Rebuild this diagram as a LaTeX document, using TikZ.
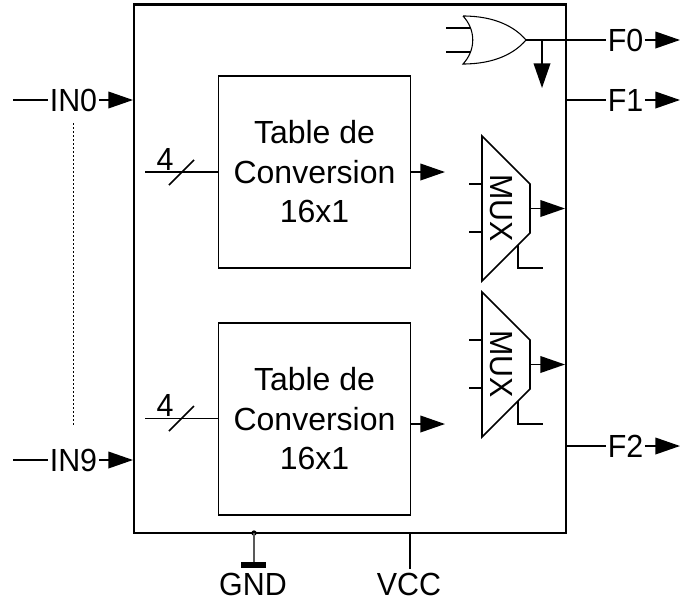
\documentclass[tikz,border=0pt]{standalone}
\usepackage{fontspec}
\setmainfont{Liberation Sans}
\newfontfamily\labfont[FakeStretch=0.95]{Liberation Sans}
\usetikzlibrary{arrows.meta}
\tikzset{>={Triangle[length=18.5pt,width=12.5pt]}}
\tikzset{%
    lab/.style={inner sep=1pt,font=\labfont\fontsize{24}{29}\selectfont},
    table/.style={draw,line width=1.3pt,minimum width=144pt,minimum height=144pt,inner sep=0pt,align=center,font=\fontsize{24}{29.6}\selectfont},
    wire/.style={line width=1.2pt},
    fine/.style={line width=0.8pt},
    frame/.style={line width=1.6pt}
}
\begin{document}
\begin{tikzpicture}[x=0.75pt,y=-0.75pt]
    \useasboundingbox (0,0) rectangle (680,603);
    % outer box
    \draw[frame] (134,4.5) rectangle (566,533);
    % conversion tables
    \node[table] (taba) at (314.5,172) {Table de\\Conversion\\16x1};
    \node[table] (tabb) at (314.5,419) {Table de\\Conversion\\16x1};
    \coordinate (ina) at (145,172);
    \coordinate (inb) at (145,418.5);
    \draw[wire] (ina)--(ina-|taba.west);
    \draw[wire] (inb)--(inb-|tabb.west);
    \node[lab,inner sep=0pt] (foura) at (165,159) {4};
    \node[lab,inner sep=0pt] (fourb) at (165,405.5) {4};
    \coordinate (sla) at (169,185);
    \coordinate (slb) at (194,160);
    \coordinate (slc) at (169,431);
    \coordinate (sld) at (194,406);
    \draw[wire] (sla)--(slb);
    \draw[wire] (slc)--(sld);
    \coordinate (outa) at (445,172);
    \coordinate (outb) at (445,424);
    \draw[->,wire] (outa-|taba.east)--(outa);
    \draw[->,wire] (outb-|tabb.east)--(outb);
    % inputs
    \node[lab] (inzero) at (73.5,100) {IN0};
    \node[lab] (innine) at (73.5,460) {IN9};
    \coordinate (ia) at (13,100);
    \coordinate (ib) at (13,460);
    \coordinate (ic) at (133,100);
    \coordinate (id) at (133,460);
    \draw[wire] (ia)--(inzero);
    \draw[wire] (ib)--(innine);
    \draw[->,wire] (inzero)--(ic);
    \draw[->,wire] (innine)--(id);
    \coordinate (da) at (73.5,123);
    \coordinate (db) at (73.5,425);
    \draw[dash pattern=on 1.5pt off 1.5pt,line width=1.1pt] (da)--(db);
    % or gate
    \coordinate (ortip) at (526,40);
    \coordinate (orbr) at (542,40);
    \coordinate (ordown) at (542,88);
    \draw[fine] (463,16) .. controls (495,16) and (515,27) .. (ortip) .. controls (515,53) and (495,64) .. (463,64) .. controls (476,50) and (476,30) .. (463,16);
    \draw[fine] (446,28)--(471,28);
    \draw[fine] (446,52)--(471,52);
    \draw[->,wire] (orbr)--(ordown);
    % outputs
    \node[lab] (fzero) at (625.5,40) {F0};
    \node[lab] (fone) at (625.5,100) {F1};
    \node[lab] (ftwo) at (625.5,446) {F2};
    \coordinate (oa) at (680,40);
    \coordinate (ob) at (680,100);
    \coordinate (oc) at (680,446);
    \coordinate (fb) at (566,100);
    \coordinate (fc) at (566,446);
    \draw[wire] (ortip)--(fzero);
    \draw[wire] (fb)--(fone);
    \draw[wire] (fc)--(ftwo);
    \draw[->,wire] (fzero)--(oa);
    \draw[->,wire] (fone)--(ob);
    \draw[->,wire] (ftwo)--(oc);
    % muxes
    \foreach \y/\n in {136/a,292/b}{
        \draw[wire,line join=miter] (482,\y)--(530,\y+48)--(530,\y+97)--(482,\y+145)--cycle;
        \node[lab,rotate=-90] (mux\n) at (501.5,\y+72) {MUX};
        \draw[wire] (469,\y+48)--(482,\y+48);
        \draw[wire] (469,\y+96)--(482,\y+96);
        \draw[wire] (518,\y+109)--(518,\y+132)--(543,\y+132);
        \draw[->,wire] (530,\y+72.5)--(565,\y+72.5);
    }
    % supply
    \node[lab] (gnd) at (253,584.5) {GND};
    \node[lab] (vcc) at (409,584.5) {VCC};
    \coordinate (ga) at (254,533);
    \coordinate (gb) at (254,565);
    \coordinate (gc) at (241,565);
    \coordinate (gd) at (266,565);
    \coordinate (va) at (410,533);
    \coordinate (vb) at (410,569);
    \fill (ga) circle (2pt);
    \draw[wire,gray!70!black] (ga)--(gb);
    \draw[line width=3.8pt] (gc)--(gd);
    \draw[wire] (va)--(vb);
\end{tikzpicture}
\end{document}
